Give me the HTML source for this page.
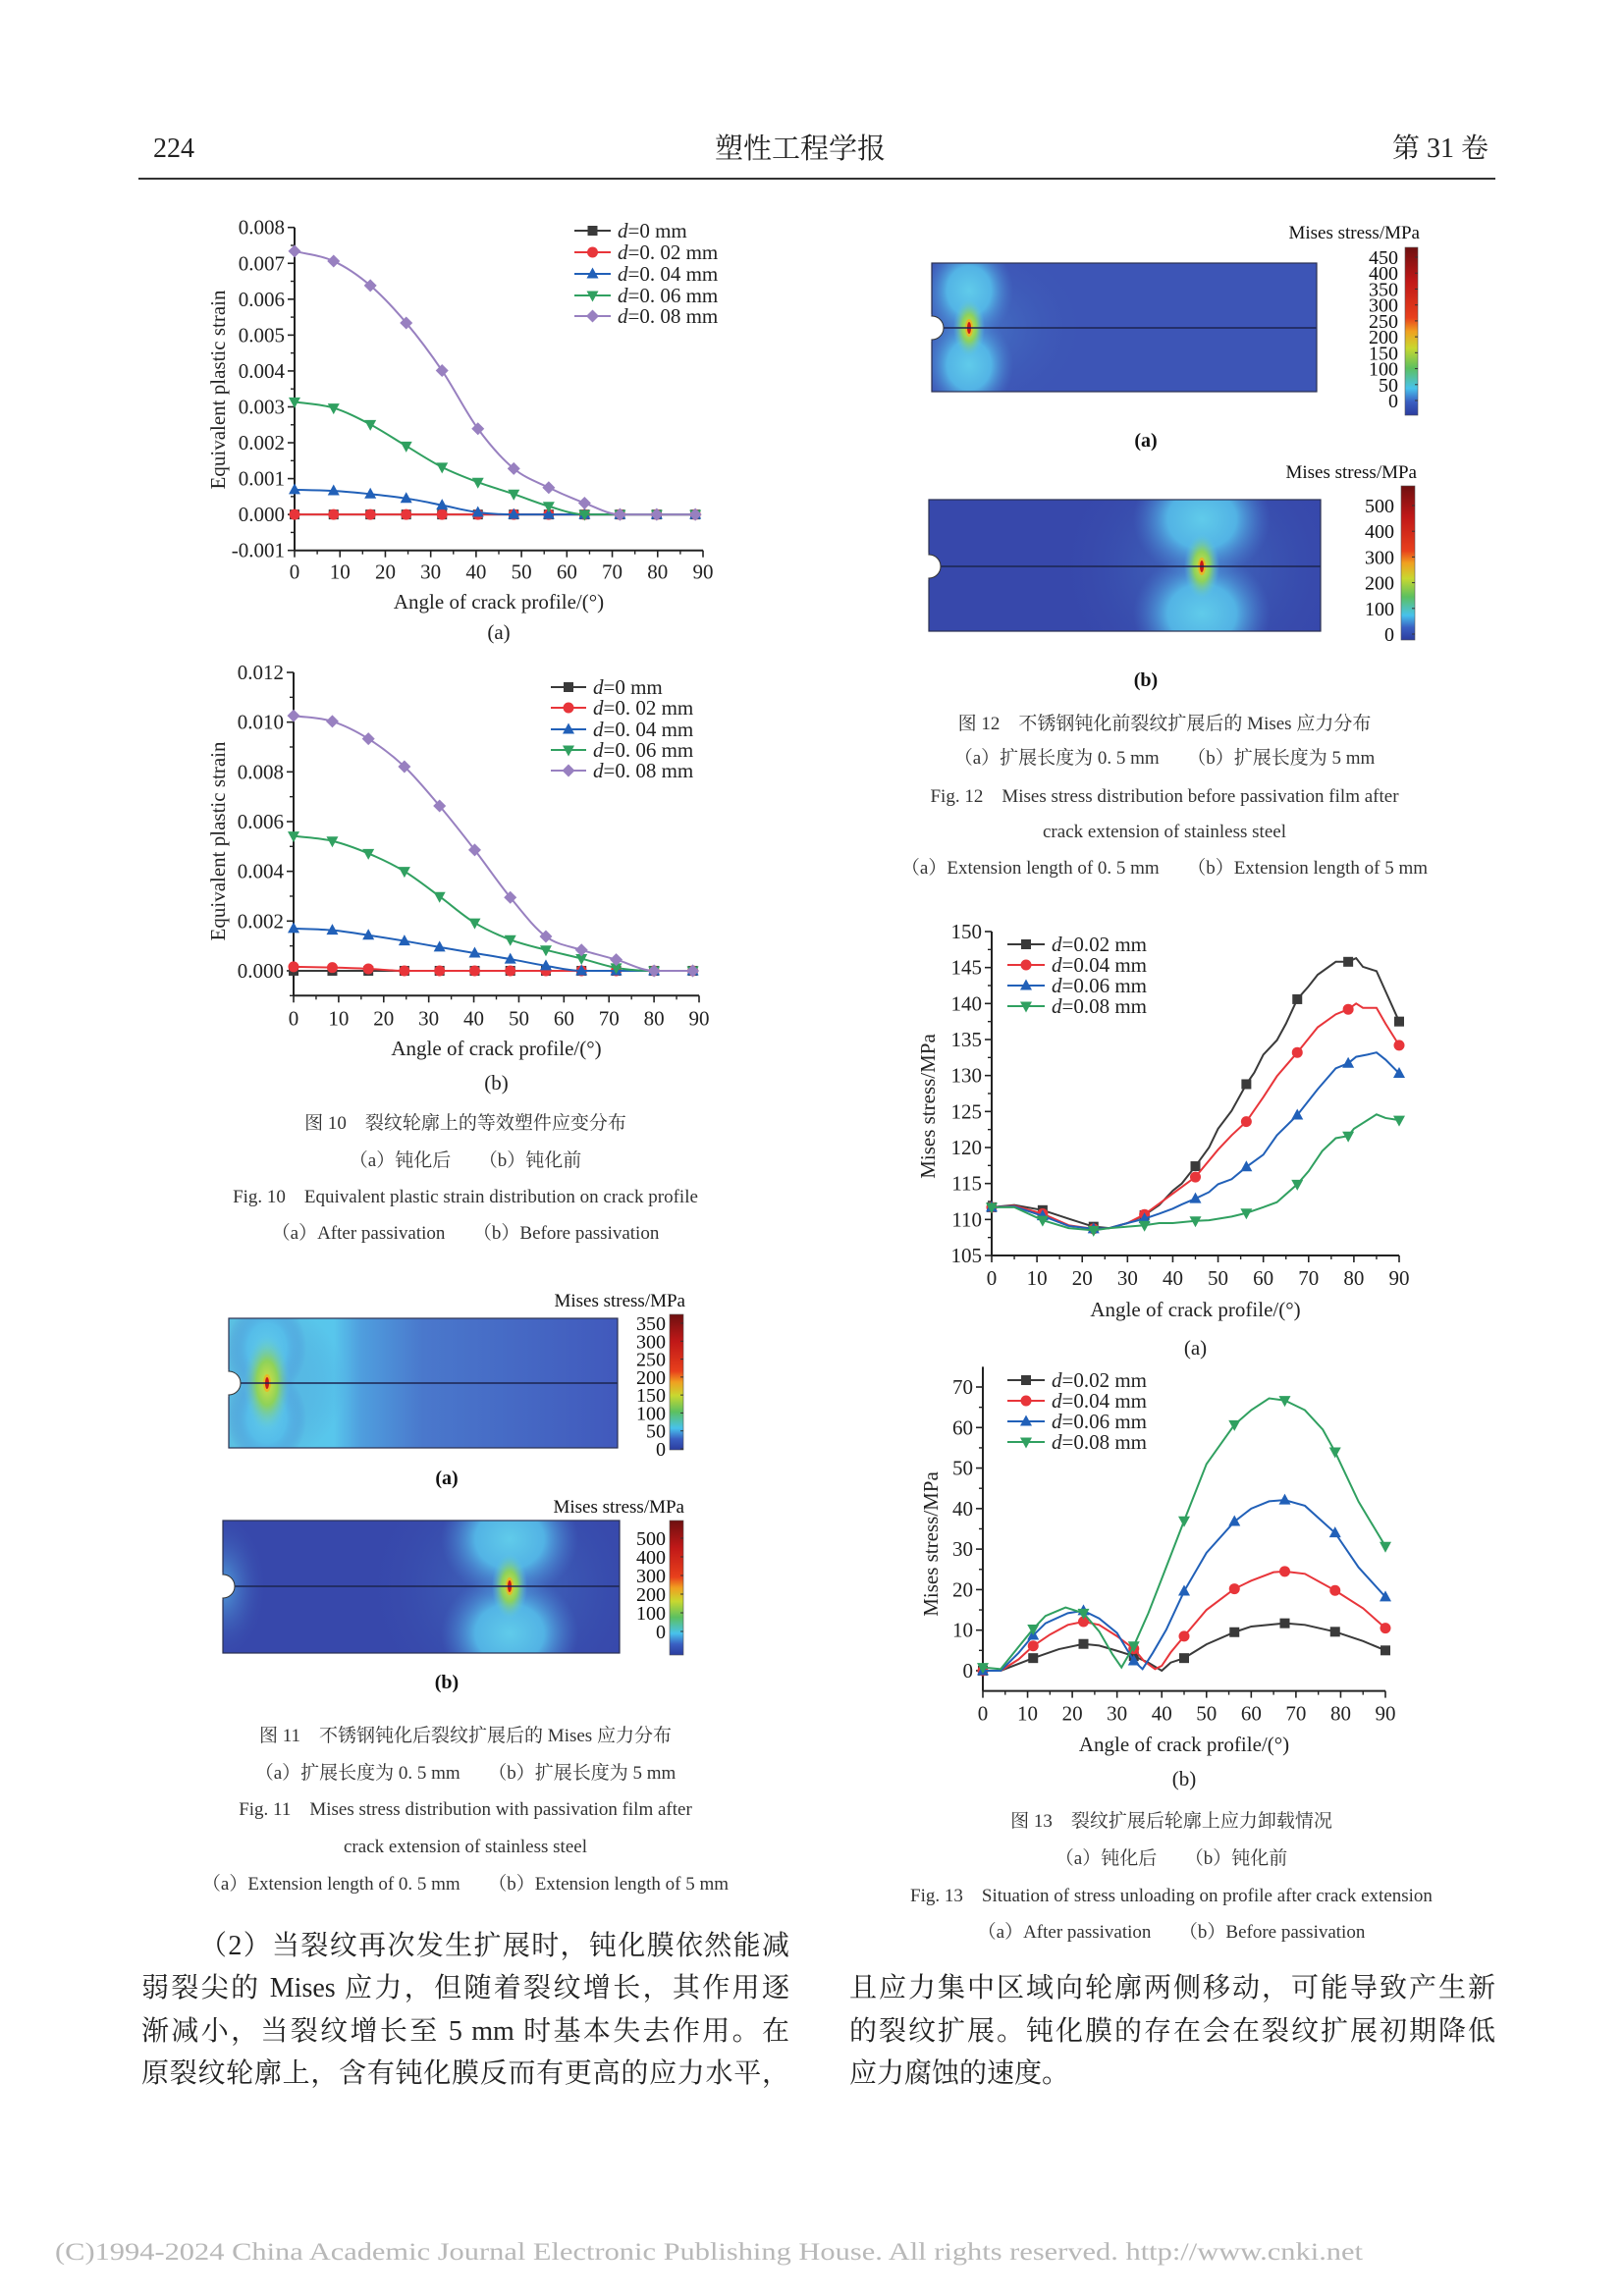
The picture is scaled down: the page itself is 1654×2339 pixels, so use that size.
<!DOCTYPE html>
<html><head><meta charset="utf-8">
<style>
html,body{margin:0;padding:0;background:#fff;}
#page{position:relative;width:1654px;height:2339px;overflow:hidden;background:#fff;font-family:"Liberation Serif","Noto Serif CJK SC",serif;color:#222;}
.t{position:absolute;white-space:nowrap;}
.cap{position:absolute;width:900px;text-align:center;font-size:19px;line-height:24px;white-space:nowrap;color:#333;}
.body{position:absolute;font-size:28px;line-height:36px;height:36px;white-space:nowrap;font-family:"Liberation Serif","Noto Serif CJK SC",serif;color:#222;overflow:hidden;}
.just{text-align:justify;text-align-last:justify;white-space:normal;}
svg text{font-family:"Liberation Serif","Noto Serif CJK SC",serif;}
</style></head>
<body>
<div id="page">
<div class="t" style="left:156px;top:134px;font-size:28px;line-height:36px;">224</div>
<div class="t" style="left:728px;top:134px;font-size:29px;line-height:36px;">塑性工程学报</div>
<div class="t" style="left:1418px;top:134px;font-size:28px;line-height:36px;">第 31 卷</div>
<div style="position:absolute;left:141px;top:181px;width:1382px;height:2px;background:#333;"></div>

<div class="cap" style="left:24px;top:1133px;">图 10　裂纹轮廓上的等效塑件应变分布</div>
<div class="cap" style="left:24px;top:1171px;">（a）钝化后　　（b）钝化前</div>
<div class="cap" style="left:24px;top:1208px;">Fig. 10　Equivalent plastic strain distribution on crack profile</div>
<div class="cap" style="left:24px;top:1245px;">（a）After passivation　　（b）Before passivation</div>

<div class="cap" style="left:736px;top:726px;">图 12　不锈钢钝化前裂纹扩展后的 Mises 应力分布</div>
<div class="cap" style="left:736px;top:761px;">（a）扩展长度为 0. 5 mm　　（b）扩展长度为 5 mm</div>
<div class="cap" style="left:736px;top:800px;">Fig. 12　Mises stress distribution before passivation film after</div>
<div class="cap" style="left:736px;top:836px;">crack extension of stainless steel</div>
<div class="cap" style="left:736px;top:873px;">（a）Extension length of 0. 5 mm　　（b）Extension length of 5 mm</div>

<div class="cap" style="left:24px;top:1757px;">图 11　不锈钢钝化后裂纹扩展后的 Mises 应力分布</div>
<div class="cap" style="left:24px;top:1795px;">（a）扩展长度为 0. 5 mm　　（b）扩展长度为 5 mm</div>
<div class="cap" style="left:24px;top:1832px;">Fig. 11　Mises stress distribution with passivation film after</div>
<div class="cap" style="left:24px;top:1870px;">crack extension of stainless steel</div>
<div class="cap" style="left:24px;top:1908px;">（a）Extension length of 0. 5 mm　　（b）Extension length of 5 mm</div>

<div class="cap" style="left:743px;top:1844px;">图 13　裂纹扩展后轮廓上应力卸载情况</div>
<div class="cap" style="left:743px;top:1882px;">（a）钝化后　　（b）钝化前</div>
<div class="cap" style="left:743px;top:1920px;">Fig. 13　Situation of stress unloading on profile after crack extension</div>
<div class="cap" style="left:743px;top:1957px;">（a）After passivation　　（b）Before passivation</div>

<div class="body just" style="left:203px;top:1965px;width:601px;">（2）当裂纹再次发生扩展时，钝化膜依然能减</div>
<div class="body just" style="left:144px;top:2008px;width:660px;">弱裂尖的 Mises 应力，但随着裂纹增长，其作用逐</div>
<div class="body just" style="left:144px;top:2052px;width:660px;">渐减小，当裂纹增长至 5 mm 时基本失去作用。在</div>
<div class="body just" style="left:144px;top:2095px;width:660px;">原裂纹轮廓上，含有钝化膜反而有更高的应力水平，</div>
<div class="body just" style="left:865px;top:2008px;width:658px;">且应力集中区域向轮廓两侧移动，可能导致产生新</div>
<div class="body just" style="left:865px;top:2052px;width:658px;">的裂纹扩展。钝化膜的存在会在裂纹扩展初期降低</div>
<div class="body" style="left:865px;top:2095px;">应力腐蚀的速度。</div>

<svg id="fig" width="1654" height="2339" style="position:absolute;left:0;top:0;" xmlns="http://www.w3.org/2000/svg">
<defs>
<linearGradient id="cbar" x1="0" y1="1" x2="0" y2="0">
<stop offset="0" stop-color="#2b3c9e"/><stop offset="0.08" stop-color="#3a5fc2"/><stop offset="0.16" stop-color="#48c2ec"/><stop offset="0.28" stop-color="#5cc060"/><stop offset="0.4" stop-color="#c8d830"/><stop offset="0.5" stop-color="#f0a020"/><stop offset="0.58" stop-color="#e8401c"/><stop offset="0.8" stop-color="#c01818"/><stop offset="1" stop-color="#6e1010"/>
</linearGradient>
<radialGradient id="lobeC"><stop offset="0" stop-color="#60cbea"/><stop offset="0.5" stop-color="#55bdea" stop-opacity="0.9"/><stop offset="1" stop-color="#4a80d0" stop-opacity="0"/></radialGradient>
<radialGradient id="coreG"><stop offset="0" stop-color="#d8e040"/><stop offset="0.45" stop-color="#8ed25a"/><stop offset="1" stop-color="#5ac6e8" stop-opacity="0"/></radialGradient>
<radialGradient id="halo"><stop offset="0" stop-color="#58b8ea" stop-opacity="0.8"/><stop offset="1" stop-color="#3748ab" stop-opacity="0"/></radialGradient>
<linearGradient id="base11a" x1="0" y1="0" x2="1" y2="0"><stop offset="0" stop-color="#5cc4e4"/><stop offset="0.27" stop-color="#58c6ec"/><stop offset="0.34" stop-color="#4f9ede"/><stop offset="0.5" stop-color="#4a78cc"/><stop offset="1" stop-color="#4159bc"/></linearGradient>
</defs>
<text x="56" y="2302" font-size="25" fill="#b8b8b8" textLength="1332" lengthAdjust="spacingAndGlyphs">(C)1994-2024 China Academic Journal Electronic Publishing House. All rights reserved.    http://www.cnki.net</text>
</svg>
</div>

<script>
// ===== Chart 10a data =====
const c10aX = [0,8.6,16.7,24.6,32.5,40.4,48.3,56,63.9,71.7,79.8,88.3];
const c10aD0 = [0,0,0,0,0,0,0,0,0,0,0,0];
const c10aD02 = [0,0,0,0,0,0,0,0,0,0,0,0];
const c10aD04 = [0.00069,0.00066,0.00057,0.00045,0.00026,0.00006,0,0,0,0,0,0];
const c10aD06 = [0.00314,0.00297,0.00251,0.00191,0.00132,0.0009,0.00057,0.00023,0,0,0,0];
const c10aD08 = [0.00734,0.00706,0.00638,0.00534,0.00401,0.00239,0.00128,0.00075,0.00032,0,0,0];
const c10aYTicks = [-0.001,0,0.001,0.002,0.003,0.004,0.005,0.006,0.007,0.008];
const c10aYLabels = ["-0.001","0.000","0.001","0.002","0.003","0.004","0.005","0.006","0.007","0.008"];
// ===== Chart 10b data =====
const c10bX = [0,8.6,16.6,24.6,32.4,40.2,48.1,56,63.9,71.6,80,88.6];
const c10bD0 = [0,0,0,0,0,0,0,0,0,0,0,0];
const c10bD02 = [0.00016,0.00013,0.00008,0,0,0,0,0,0,0,0,0];
const c10bD04 = [0.0017,0.00163,0.00143,0.0012,0.00095,0.00071,0.00047,0.0002,0,0,0,0];
const c10bD06 = [0.00542,0.00522,0.00472,0.004,0.00299,0.00193,0.00125,0.00084,0.00049,0.00012,0,0];
const c10bD08 = [0.01026,0.01003,0.00933,0.00821,0.00663,0.00486,0.00295,0.00138,0.00084,0.00045,0,0];
const c10bYTicks = [0,0.002,0.004,0.006,0.008,0.010,0.012];
const c10bYLabels = ["0.000","0.002","0.004","0.006","0.008","0.010","0.012"];
const c10XTicks = [0,10,20,30,40,50,60,70,80,90];
const c10XLabels = ["0","10","20","30","40","50","60","70","80","90"];
const c10Legend = ["=0 mm","=0. 02 mm","=0. 04 mm","=0. 06 mm","=0. 08 mm"];
// ===== Chart 13a data =====
const c13MarkX = [0,11.25,22.5,33.75,45,56.25,67.5,78.75,90];
const c13aBlackX = [0,5,11.25,17,22.5,26,30,33.75,37,40,42,45,48,50,53,56.25,58,60,63,65,67.5,70,72,76,78.75,80.5,82,85,87,90];
const c13aBlackY = [111.7,112,111.3,110.1,109,108.8,109.5,110.6,112,114,115,117.4,120,122.6,125.1,128.8,130.4,132.9,134.9,137.2,140.6,142.4,144,145.8,145.8,146.3,145.1,144.5,141.7,137.5];
const c13aRedX = [0,5,11.25,17,22.5,26,30,33.75,37,40,45,50,53,56.25,60,63,67.5,72,76,78.75,80.5,82,85,87,90];
const c13aRedY = [111.7,111.9,110.8,109.2,108.7,108.8,109.5,110.7,112.2,113.6,115.9,119.7,121.7,123.6,127,129.9,133.2,136.7,138.5,139.2,140,139.4,139.4,137.2,134.2];
const c13aBlueX = [0,5,11.25,17,22.5,26,30,33.75,37,40,42,45,48,50,53,56.25,60,63,67.5,72,76,78.75,80.5,83,85,87,90];
const c13aBlueY = [111.7,111.8,110.5,109.1,108.7,108.8,109.5,110.1,110.8,111.5,112.1,112.9,113.8,114.9,115.6,117.3,119,121.7,124.5,128.1,131,131.7,132.6,132.9,133.2,132.2,130.3];
const c13aGreenX = [0,5,11.25,17,22.5,26,30,33.75,37,40,45,48,50,53,56.25,60,63,67.5,70,73,76,78.75,80,83,85,87,90];
const c13aGreenY = [111.7,111.7,109.9,108.8,108.5,108.8,109,109.2,109.5,109.5,109.8,109.9,110.1,110.4,110.9,111.7,112.4,114.9,116.7,119.5,121.3,121.6,122.6,123.8,124.6,124.1,123.8];
const c13aYTicks = [105,110,115,120,125,130,135,140,145,150];
const c13aYLabels = ["105","110","115","120","125","130","135","140","145","150"];
// ===== Chart 13b data =====
const c13bBlackX = [0,4,11.25,17,22.5,26,30,33.75,37,40,42,45,50,56.25,60,67.5,72,78.75,85,90];
const c13bBlackY = [0,0,3.1,5.3,6.6,6.2,4.9,3.6,2,0,2,3.1,6.5,9.5,10.9,11.7,11.3,9.6,7.3,5.0];
const c13bRedX = [0,4,8,11.25,15,19,22.5,26,30,33.75,36,38.5,40,42,45,50,56.25,60,65,67.5,72,78.75,85,90];
const c13bRedY = [0,0,2.8,6.1,8.9,11.3,12.1,11.3,8.5,5.4,2.4,0.4,1.2,4.5,8.5,15,20.2,22.2,24.3,24.5,23.9,19.8,15.4,10.5];
const c13bBlueX = [0,4,8,11.25,14,19,22.5,26,30,33.75,35.7,38,41,45,50,56.25,60,64,67.5,72,78.75,84,90];
const c13bBlueY = [0,0,4.4,8.7,11.7,14.2,14.8,12.9,9.3,2.4,0.4,4.4,10.1,19.6,29.1,36.8,40,41.8,42.1,40.7,34,25.5,18.2];
const c13bGreenX = [0,4,8,11.25,14,18.5,22.5,26,29,31,33.75,37,40,45,50,56.25,60,64,67.5,72,76,78.75,84,90];
const c13bGreenY = [0.8,0.4,5.9,10.3,13.5,15.6,14.2,9.7,4,0.8,6.1,14.2,22.7,37,51,60.7,64.3,67.2,66.7,64.3,59.5,54,41.7,30.7];
const c13bYTicks = [0,10,20,30,40,50,60,70];
const c13bYLabels = ["0","10","20","30","40","50","60","70"];
const c13XTicks = [0,10,20,30,40,50,60,70,80,90];
const c13XLabels = ["0","10","20","30","40","50","60","70","80","90"];
const c13Legend = ["=0.02 mm","=0.04 mm","=0.06 mm","=0.08 mm"];
// ===== Colorbar labels =====
const cb12aLabels = ["450","400","350","300","250","200","150","100","50","0"];
const cb12bLabels = ["500","400","300","200","100","0"];
const cb11aLabels = ["350","300","250","200","150","100","50","0"];
const cb11bLabels = ["500","400","300","200","100","0"];

const NS = "http://www.w3.org/2000/svg";
const svg = document.getElementById('fig');
const COL = {black:"#3a3a3a", red:"#e8353a", blue:"#2160b8", green:"#30a060", purple:"#9880c0"};

function el(tag, attrs, parent){
  const e = document.createElementNS(NS, tag);
  for (const k in attrs) e.setAttribute(k, attrs[k]);
  (parent||svg).appendChild(e);
  return e;
}
function txt(s, attrs, parent){ const e = el('text', attrs, parent); e.textContent = s; return e; }

function marker(g, shape, x, y, color){
  const r = 5.5;
  let m;
  if (shape==='square') m = el('rect',{x:x-r+0.5,y:y-r+0.5,width:2*r-1,height:2*r-1,fill:color},g);
  else if (shape==='circle') m = el('circle',{cx:x,cy:y,r:r,fill:color},g);
  else if (shape==='up') m = el('polygon',{points:`${x},${y-r-1} ${x-r-0.5},${y+r-1} ${x+r+0.5},${y+r-1}`,fill:color},g);
  else if (shape==='down') m = el('polygon',{points:`${x},${y+r+1} ${x-r-0.5},${y-r+1} ${x+r+0.5},${y-r+1}`,fill:color},g);
  else m = el('polygon',{points:`${x},${y-r-1} ${x+r+1},${y} ${x},${y+r+1} ${x-r-1},${y}`,fill:color},g);
  
  
  return m;
}

function monoPath(px, py){
  const n = px.length;
  if (n<2) return '';
  const d=[], m=[];
  for (let i=0;i<n-1;i++) d.push((py[i+1]-py[i])/(px[i+1]-px[i]));
  m[0]=d[0]; m[n-1]=d[n-2];
  for (let i=1;i<n-1;i++) m[i] = (d[i-1]*d[i]<=0)?0:(d[i-1]+d[i])/2;
  for (let i=0;i<n-1;i++){
    if (d[i]===0){m[i]=0;m[i+1]=0;continue;}
    const a=m[i]/d[i], b=m[i+1]/d[i], s=a*a+b*b;
    if (s>9){const t=3/Math.sqrt(s); m[i]=t*a*d[i]; m[i+1]=t*b*d[i];}
  }
  let p = `M${px[0]},${py[0]}`;
  for (let i=0;i<n-1;i++){
    const h = px[i+1]-px[i];
    p += ` C${px[i]+h/3},${py[i]+m[i]*h/3} ${px[i+1]-h/3},${py[i+1]-m[i+1]*h/3} ${px[i+1]},${py[i+1]}`;
  }
  return p;
}

function chart(cfg){
  const g = el('g',{});
  
  
  const sx = v => cfg.x0 + (v-cfg.xmin)/(cfg.xmax-cfg.xmin)*(cfg.x1-cfg.x0);
  const sy = v => cfg.yb + (v-cfg.ymin)/(cfg.ymax-cfg.ymin)*(cfg.yt-cfg.yb);
  const axTop = sy(cfg.axisTop);
  const yax = el('line',{x1:cfg.x0,y1:axTop,x2:cfg.x0,y2:cfg.yb,stroke:'#222','stroke-width':2},g);
  
  
  const xax = el('line',{x1:cfg.x0,y1:cfg.yb,x2:cfg.x1,y2:cfg.yb,stroke:'#222','stroke-width':2},g);
  
  
  cfg.xTicks.forEach((v,i)=>{
    const x = sx(v);
    el('line',{x1:x,y1:cfg.yb,x2:x,y2:cfg.yb+7,stroke:'#222','stroke-width':1.6},g);
    if (i<cfg.xTicks.length-1){ const xm = sx((v+cfg.xTicks[i+1])/2); el('line',{x1:xm,y1:cfg.yb,x2:xm,y2:cfg.yb+4,stroke:'#222','stroke-width':1.4},g); }
    const t = txt(cfg.xLabels[i],{x:x,y:cfg.yb+cfg.xLabelDy,'font-size':cfg.fs,'text-anchor':'middle',fill:'#222'},g);
    
    
  });
  cfg.yTicks.forEach((v,i)=>{
    const y = sy(v);
    el('line',{x1:cfg.x0-7,y1:y,x2:cfg.x0,y2:y,stroke:'#222','stroke-width':1.6},g);
    if (i<cfg.yTicks.length-1){ const ym = sy((v+cfg.yTicks[i+1])/2); el('line',{x1:cfg.x0-4,y1:ym,x2:cfg.x0,y2:ym,stroke:'#222','stroke-width':1.4},g); }
    const t = txt(cfg.yLabels[i],{x:cfg.x0-10,y:y+7,'font-size':cfg.fs,'text-anchor':'end',fill:'#222'},g);
    
    
  });
  if (cfg.yMinorBelow){ const ym = sy(cfg.ymin); el('line',{x1:cfg.x0-4,y1:ym,x2:cfg.x0,y2:ym,stroke:'#222','stroke-width':1.4},g); }
  const xt = txt(cfg.xTitle,{x:(cfg.x0+cfg.x1)/2,y:cfg.xTitleY,'font-size':cfg.tfs,'text-anchor':'middle',fill:'#222'},g);
  
  
  const yt = txt(cfg.yTitle,{x:0,y:0,'font-size':cfg.tfs,'text-anchor':'middle',fill:'#222',transform:`translate(${cfg.yTitleX},${cfg.yTitleY}) rotate(-90)`},g);
  
  
  const pl = txt(cfg.panel,{x:(cfg.x0+cfg.x1)/2,y:cfg.panelY,'font-size':cfg.tfs,'text-anchor':'middle',fill:'#222'},g);
  
  
  cfg.series.forEach((s,si)=>{
    const px = s.x.map(sx), py = s.y.map(sy);
    let d;
    if (cfg.smooth) d = monoPath(px,py);
    else d = 'M' + px.map((x,i)=>x+','+py[i]).join(' L');
    const path = el('path',{d:d,fill:'none',stroke:s.color,'stroke-width':2},g);
    
    
    s.x.forEach((xv,i)=>{ if (!cfg.markX || cfg.markX.indexOf(xv)>=0) marker(g, s.shape, px[i], py[i], s.color); });
    const ly = cfg.legendRows[si];
    const ll = el('line',{x1:cfg.legX0,y1:ly,x2:cfg.legX1,y2:ly,stroke:s.color,'stroke-width':2},g);
    
    
    marker(g, s.shape, (cfg.legX0+cfg.legX1)/2, ly, s.color);
    const lt = txt('',{x:cfg.legX1+7,y:ly+7,'font-size':cfg.lfs,fill:'#222'},g);
    
    
    const ts1 = el('tspan',{'font-style':'italic'},lt); ts1.textContent='d';
    const ts2 = el('tspan',{},lt); ts2.textContent = cfg.legend[si];
  });
}

chart({name:'chart-fig10a', x0:300, x1:716, xmin:0, xmax:90, yb:560.7, yt:231.7, ymin:-0.001, ymax:0.008, axisTop:0.008,
  xTicks:c10XTicks, xLabels:c10XLabels, yTicks:c10aYTicks, yLabels:c10aYLabels, fs:21, tfs:21, lfs:21, xLabelDy:29,
  xTitle:'Angle of crack profile/(°)', xTitleY:620, yTitle:'Equivalent plastic strain', yTitleX:229, yTitleY:397, panel:'(a)', panelY:651,
  smooth:true, legend:c10Legend, legX0:585, legX1:622, legendRows:[235,257,279,301,322],
  series:[{key:'d0',x:c10aX,y:c10aD0,color:COL.black,shape:'square'},{key:'d002',x:c10aX,y:c10aD02,color:COL.red,shape:'circle'},
          {key:'d004',x:c10aX,y:c10aD04,color:COL.blue,shape:'up'},{key:'d006',x:c10aX,y:c10aD06,color:COL.green,shape:'down'},
          {key:'d008',x:c10aX,y:c10aD08,color:COL.purple,shape:'diamond'}]});

chart({name:'chart-fig10b', x0:299, x1:712, xmin:0, xmax:90, yb:1014.3, yt:685, ymin:-0.001, ymax:0.012, axisTop:0.012, yMinorBelow:true,
  xTicks:c10XTicks, xLabels:c10XLabels, yTicks:c10bYTicks, yLabels:c10bYLabels, fs:21, tfs:21, lfs:21, xLabelDy:30,
  xTitle:'Angle of crack profile/(°)', xTitleY:1075, yTitle:'Equivalent plastic strain', yTitleX:229, yTitleY:857, panel:'(b)', panelY:1110,
  smooth:true, legend:c10Legend, legX0:561, legX1:597, legendRows:[700,721,743,764,785],
  series:[{key:'d0',x:c10bX,y:c10bD0,color:COL.black,shape:'square'},{key:'d002',x:c10bX,y:c10bD02,color:COL.red,shape:'circle'},
          {key:'d004',x:c10bX,y:c10bD04,color:COL.blue,shape:'up'},{key:'d006',x:c10bX,y:c10bD06,color:COL.green,shape:'down'},
          {key:'d008',x:c10bX,y:c10bD08,color:COL.purple,shape:'diamond'}]});

chart({name:'chart-fig13a', x0:1010, x1:1425, xmin:0, xmax:90, yb:1279, yt:949, ymin:105, ymax:150, axisTop:150,
  xTicks:c13XTicks, xLabels:c13XLabels, yTicks:c13aYTicks, yLabels:c13aYLabels, fs:21, tfs:21, lfs:21, xLabelDy:30,
  xTitle:'Angle of crack profile/(°)', xTitleY:1341, yTitle:'Mises stress/MPa', yTitleX:952, yTitleY:1127, panel:'(a)', panelY:1380,
  smooth:false, markX:c13MarkX, legend:c13Legend, legX0:1026, legX1:1064, legendRows:[962,983,1004,1025],
  series:[{key:'d002',x:c13aBlackX,y:c13aBlackY,color:COL.black,shape:'square'},{key:'d004',x:c13aRedX,y:c13aRedY,color:COL.red,shape:'circle'},
          {key:'d006',x:c13aBlueX,y:c13aBlueY,color:COL.blue,shape:'up'},{key:'d008',x:c13aGreenX,y:c13aGreenY,color:COL.green,shape:'down'}]});

chart({name:'chart-fig13b', x0:1001, x1:1411, xmin:0, xmax:90, yb:1722.6, yt:1413, ymin:-5, ymax:70, axisTop:75,
  xTicks:c13XTicks, xLabels:c13XLabels, yTicks:c13bYTicks, yLabels:c13bYLabels, fs:21, tfs:21, lfs:21, xLabelDy:30,
  xTitle:'Angle of crack profile/(°)', xTitleY:1784, yTitle:'Mises stress/MPa', yTitleX:955, yTitleY:1573, panel:'(b)', panelY:1819,
  smooth:false, markX:c13MarkX, legend:c13Legend, legX0:1026, legX1:1064, legendRows:[1406,1427,1448,1469],
  series:[{key:'d002',x:c13bBlackX,y:c13bBlackY,color:COL.black,shape:'square'},{key:'d004',x:c13bRedX,y:c13bRedY,color:COL.red,shape:'circle'},
          {key:'d006',x:c13bBlueX,y:c13bBlueY,color:COL.blue,shape:'up'},{key:'d008',x:c13bGreenX,y:c13bGreenY,color:COL.green,shape:'down'}]});

// ===== Contour panels =====
let clipN = 0;
function panel(p){
  const g = el('g',{});
  
  
  const id = 'clip'+(clipN++);
  const cp = el('clipPath',{id:id},g);
  el('rect',{x:p.x,y:p.y,width:p.w,height:p.h},cp);
  const inner = el('g',{'clip-path':`url(#${id})`},g);
  el('rect',{x:p.x,y:p.y,width:p.w,height:p.h,fill:p.base},inner);
  if (p.leftHalo) el('ellipse',{cx:p.x,cy:p.cy,rx:p.leftHalo[0],ry:p.leftHalo[1],fill:'url(#halo)'},inner);
  el('ellipse',{cx:p.tx,cy:p.cy,rx:p.halo[0],ry:p.halo[1],fill:'url(#halo)',opacity:0.45},inner);
  el('ellipse',{cx:p.tx,cy:p.cy-p.lobe[2],rx:p.lobe[0],ry:p.lobe[1],fill:'url(#lobeC)'},inner);
  el('ellipse',{cx:p.tx,cy:p.cy+p.lobe[2],rx:p.lobe[0],ry:p.lobe[1],fill:'url(#lobeC)'},inner);
  el('ellipse',{cx:p.tx,cy:p.cy,rx:p.core[0],ry:p.core[1],fill:'url(#coreG)'},inner);
  el('ellipse',{cx:p.tx,cy:p.cy,rx:4,ry:9,fill:'#f0b020',opacity:0.8},inner);
  el('ellipse',{cx:p.tx,cy:p.cy,rx:2,ry:6,fill:'#c81818'},inner);
  const crack = el('line',{x1:p.x,y1:p.cy,x2:p.x+p.w,y2:p.cy,stroke:'#1c2550','stroke-width':1.6},g);
  
  
  el('rect',{x:p.x,y:p.y,width:p.w,height:p.h,fill:'none',stroke:'#2a3050','stroke-width':1.2},g);
  const notch = el('circle',{cx:p.x,cy:p.cy,r:12,fill:'#fff',stroke:'#333','stroke-width':1},g);
  
  
  el('rect',{x:p.x-14,y:p.cy-14,width:13.4,height:28,fill:'#fff'},g);
  const cb = el('rect',{x:p.cbx,y:p.cby0,width:p.cbw,height:p.cby1-p.cby0,fill:'url(#cbar)',stroke:'#555','stroke-width':0.6},g);
  
  
  const n = p.labels.length;
  p.labels.forEach((s,i)=>{
    const y = p.ly0 + (p.ly1-p.ly0)*i/(n-1);
    el('line',{x1:p.cbx+p.cbw-3,y1:y,x2:p.cbx+p.cbw,y2:y,stroke:'#333','stroke-width':1},g);
    const t = txt(s,{x:p.lx,y:y+7,'font-size':p.lfs,'text-anchor':'end',fill:'#111'},g);
    
    
  });
  const tt = txt('Mises stress/MPa',{x:p.titleX,y:p.titleY,'font-size':19,'text-anchor':'end',fill:'#111'},g);
  
  
  const pl = txt(p.plabel,{x:p.px,y:p.py,'font-size':20,'text-anchor':'middle',fill:'#111','font-weight':'bold'},g);
  
  
}

panel({name:'contour-fig12a', x:949, y:268, w:392, h:131, cy:334, tx:987, base:'#3d55b6', halo:[130,100], lobe:[45,50,38], core:[16,30], 
  cbx:1431, cbw:13, cby0:252, cby1:423, labels:cb12aLabels, ly0:262, ly1:408, lx:1424, lfs:20, titleX:1446, titleY:243, plabel:'(a)', px:1167, py:455});
panel({name:'contour-fig12b', x:946, y:509, w:399, h:134, cy:577, tx:1224, base:'#3748ab', halo:[150,140], lobe:[70,60,48], core:[18,34],
  cbx:1427, cbw:14, cby0:495, cby1:652, labels:cb12bLabels, ly0:515, ly1:646, lx:1420, lfs:20, titleX:1443, titleY:487, plabel:'(b)', px:1167, py:699});
panel({name:'contour-fig11a', x:233, y:1343, w:396, h:132, cy:1409, tx:272, base:'url(#base11a)', halo:[80,80], lobe:[40,50,36], core:[24,50],
  cbx:682, cbw:14, cby0:1339, cby1:1477, labels:cb11aLabels, ly0:1348, ly1:1476, lx:678, lfs:20, titleX:698, titleY:1331, plabel:'(a)', px:455, py:1512});
panel({name:'contour-fig11b', x:227, y:1549, w:404, h:135, cy:1616, tx:519, base:'#3748ab', halo:[150,140], lobe:[70,60,48], core:[18,34], leftHalo:[45,75],
  cbx:682, cbw:14, cby0:1549, cby1:1686, labels:cb11bLabels, ly0:1567, ly1:1662, lx:678, lfs:20, titleX:697, titleY:1541, plabel:'(b)', px:455, py:1720});
</script>
</body></html>
